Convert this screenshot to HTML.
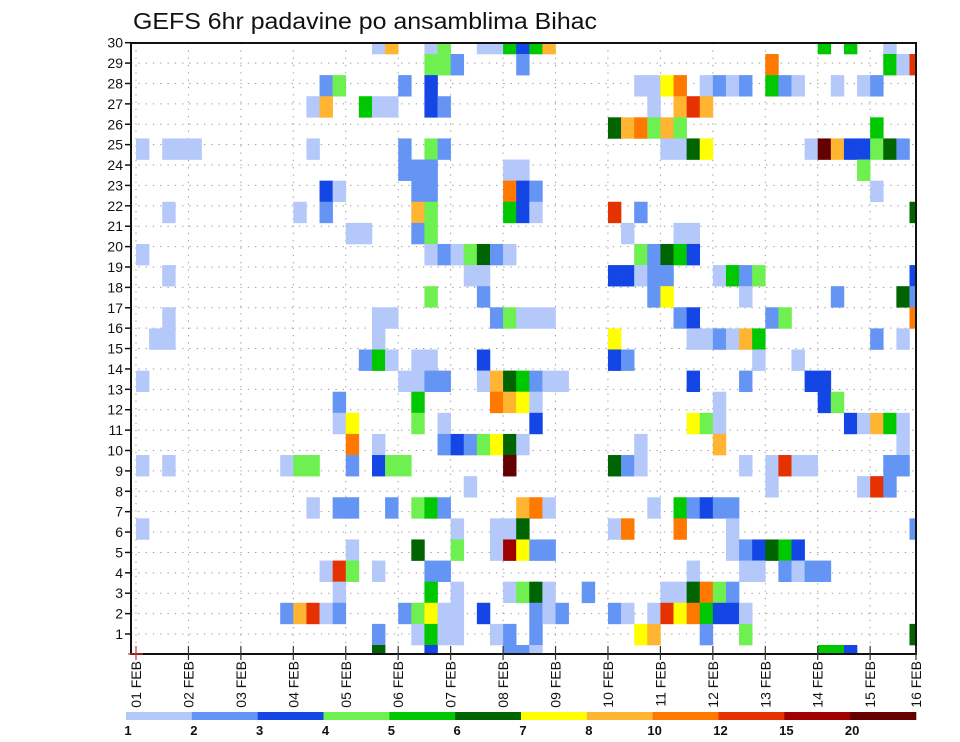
<!DOCTYPE html>
<html><head><meta charset="utf-8">
<style>
html,body{margin:0;padding:0;background:#fff;}
svg{display:block;font-family:"Liberation Sans",sans-serif;}
</style></head>
<body>
<svg id="chart" width="960" height="742" viewBox="0 0 960 742" xmlns="http://www.w3.org/2000/svg">
  <rect x="0" y="0" width="960" height="742" fill="#fff"/>
  <text x="133" y="29" font-size="23" textLength="464" lengthAdjust="spacingAndGlyphs" fill="#111">GEFS 6hr padavine po ansamblima Bihac</text>
  <g id="grid"></g>
  <g id="cells"></g>
  <g id="axes"></g>
  <g id="legend"></g>
</svg>
<script>
// ---- data ----
const members = [30,29,28,27,26,25,24,23,22,21,20,19,18,17,16,14,13,12,11,10,9,8,7,6,5,4,3,2,1,0];
const dayLabels = ["01 FEB","02 FEB","03 FEB","04 FEB","05 FEB","06 FEB","07 FEB","08 FEB","09 FEB","10 FEB","11 FEB","12 FEB","13 FEB","14 FEB","15 FEB","16 FEB"];
const yTicks = [1,2,3,4,5,6,7,8,9,10,11,12,13,14,15,16,17,18,19,20,21,22,23,24,25,26,27,28,29,30];
const levelLabels = ["1","2","3","4","5","6","7","8","10","12","15","20"];
const levelColors = ["#b4c8fa","#6495f5","#1446e6","#6ef050","#00c800","#006400","#ffff00","#ffb432","#ff7800","#e63200","#a00000","#640000"];
// per member row: "step:class" pairs (step = 6h index 0..59, class 1..9,A,B,C)
const grid = [
"18:1 19:8 22:1 23:4 26:1 27:1 28:5 29:3 30:5 31:8 52:5 54:5 57:1",
"22:4 23:4 24:2 29:2 48:9 57:5 58:1 59:A",
"14:2 15:4 20:2 22:3 38:1 39:1 40:7 41:9 43:1 44:2 45:1 46:2 48:5 49:2 50:1 53:1 55:1 56:2",
"13:1 14:8 17:5 18:1 19:1 22:3 23:2 39:1 41:8 42:A 43:8",
"36:6 37:8 38:9 39:4 40:8 41:4 56:5",
"0:1 2:1 3:1 4:1 13:1 20:2 22:4 23:2 40:1 41:1 42:6 43:7 51:1 52:C 53:8 54:3 55:3 56:4 57:6 58:2",
"20:2 21:2 22:2 28:1 29:1 55:4",
"14:3 15:1 21:2 22:2 28:9 29:3 30:2 56:1",
"2:1 12:1 14:2 21:8 22:4 28:5 29:3 30:1 36:A 38:2 59:6",
"16:1 17:1 21:2 22:4 37:1 41:1 42:1",
"0:1 22:1 23:2 24:1 25:4 26:6 27:2 28:1 38:4 39:2 40:6 41:5 42:3",
"2:1 25:1 26:1 36:3 37:3 38:1 39:2 40:2 44:1 45:5 46:2 47:4 59:3",
"22:4 26:2 39:2 40:7 46:1 53:2 58:6 59:2",
"2:1 18:1 19:1 27:2 28:4 29:1 30:1 31:1 41:2 42:3 48:2 49:4 59:9",
"1:1 2:1 18:1 36:7 42:1 43:1 44:2 45:1 46:8 47:5 56:2 58:1",
"17:2 18:5 19:1 21:1 22:1 26:3 36:3 37:2 47:1 50:1",
"0:1 20:1 21:1 22:2 23:2 26:1 27:8 28:6 29:5 30:2 31:1 32:1 42:3 46:2 51:3 52:3",
"15:2 21:5 27:9 28:8 29:7 30:1 44:1 52:3 53:4",
"15:1 16:7 21:4 23:1 30:3 42:7 43:4 44:1 54:3 55:1 56:8 57:5 58:1",
"16:9 18:1 23:2 24:3 25:2 26:4 27:7 28:6 29:1 38:1 44:8 58:1",
"0:1 2:1 11:1 12:4 13:4 16:2 18:3 19:4 20:4 28:C 36:6 37:2 38:1 46:1 48:1 49:A 50:1 51:1 57:2 58:2",
"25:1 48:1 55:1 56:A 57:2",
"13:1 15:2 16:2 19:2 21:4 22:5 23:2 29:8 30:9 31:1 39:1 41:5 42:2 43:3 44:2 45:2",
"0:1 24:1 27:1 28:1 29:6 36:1 37:9 41:9 45:1 59:2",
"16:1 21:6 24:4 27:1 28:B 29:7 30:2 31:2 45:1 46:2 47:3 48:6 49:5 50:3",
"14:1 15:A 16:4 18:1 22:2 23:2 42:1 46:1 47:1 49:2 50:1 51:2 52:2",
"15:1 22:5 24:1 28:1 29:4 30:6 31:1 34:2 40:1 41:1 42:6 43:9 44:4 45:2",
"11:2 12:8 13:A 14:1 15:2 20:2 21:4 22:7 23:1 24:1 26:3 30:2 31:1 32:2 36:2 37:1 39:1 40:A 41:7 42:9 43:5 44:3 45:3 46:1",
"18:2 21:1 22:5 23:1 24:1 27:1 28:2 30:2 38:7 39:8 43:2 46:4 59:6",
"18:6 22:3 28:2 29:2 30:1 52:5 53:5 54:3"
];
// ---- geometry ----
const X0 = 136, COLW = 13.11, DAYW = 52.44;
const LEFT = 131, RIGHT = 916, TOP = 43, BOTTOM = 654;
const NS = "http://www.w3.org/2000/svg";
function xCol(c){ return X0 + c*COLW; }
function xDay(d){ return d===15 ? RIGHT : X0 + d*DAYW; }
function yTick(r){ return 654.4 - r*20.39; }
function slotTop(s){ return s===0 ? TOP : 54 + (s-1)*21.107; }
function slotBottom(s){ return s===members.length-1 ? BOTTOM : 54 + s*21.107; }
const codes = "123456789ABC";
function mk(tag, attrs, parent){
  const e = document.createElementNS(NS, tag);
  for (const k in attrs) e.setAttribute(k, attrs[k]);
  parent.appendChild(e); return e;
}
const gGrid = document.getElementById('grid');
const gCells = document.getElementById('cells');
const gAxes = document.getElementById('axes');
const gLeg = document.getElementById('legend');

yTicks.forEach(function(r){
  if (r >= 30) return;
  const l = mk('line',{x1:LEFT,x2:RIGHT,y1:yTick(r),y2:yTick(r),stroke:'#999','stroke-width':1,'stroke-dasharray':'1.3,6'},gGrid);
  
  
});
dayLabels.forEach(function(d,i){
  if (i === 15) return;
  const l = mk('line',{x1:xDay(i),x2:xDay(i),y1:TOP,y2:BOTTOM,stroke:'#999','stroke-width':1,'stroke-dasharray':'1.3,6'},gGrid);
  
  
});

grid.forEach(function(row, s){
  row.split(/\s+/).forEach(function(p){
    if (!p) return;
    const parts = p.split(':');
    const c = parseInt(parts[0],10);
    const k = codes.indexOf(parts[1]);
    if (k < 0) return;
    const x = xCol(c);
    const w = Math.min(COLW, RIGHT - x);
    if (w <= 0) return;
    const y1 = slotTop(s), y2 = slotBottom(s);
    const r = mk('rect',{x:x.toFixed(2),y:y1.toFixed(2),width:(w+0.3).toFixed(2),height:(y2-y1+0.3).toFixed(2),fill:levelColors[k]},gCells);
    
    
  });
});

const frame = mk('rect',{x:LEFT,y:TOP,width:RIGHT-LEFT,height:BOTTOM-TOP,fill:'none',stroke:'#111','stroke-width':2},gAxes);



yTicks.forEach(function(r){
  const y = yTick(r);
  const t = mk('line',{x1:LEFT-6,x2:LEFT,y1:y,y2:y,stroke:'#111','stroke-width':1.5},gAxes);
  
  
  const lb = mk('text',{x:LEFT-8,y:y+5,'font-size':14,'text-anchor':'end',fill:'#111'},gAxes);
  lb.textContent = r;
  
  
});

dayLabels.forEach(function(d,i){
  const x = xDay(i);
  const t = mk('line',{x1:x,x2:x,y1:BOTTOM-8,y2:BOTTOM+6,stroke:i===0?'#c33':'#333','stroke-width':1.2},gAxes);
  
  
  const lb = mk('text',{x:0,y:0,'font-size':14,'text-anchor':'end',fill:'#111',transform:'translate('+(x+5)+','+(BOTTOM+7)+') rotate(-90)'},gAxes);
  lb.textContent = d;
  
  
});
const red = mk('line',{x1:LEFT-3,x2:X0+7,y1:BOTTOM,y2:BOTTOM,stroke:'#c33','stroke-width':1.2},gAxes);



const CB0 = 126, CBW = (916-126)/12;
levelColors.forEach(function(col,i){
  const r = mk('rect',{x:(CB0+i*CBW).toFixed(2),y:712,width:(CBW+0.3).toFixed(2),height:8,fill:col},gLeg);
  
  
});
levelLabels.forEach(function(lab,i){
  const t = mk('text',{x:(CB0+i*CBW+2).toFixed(2),y:735,'font-size':13,'font-weight':'bold','text-anchor':'middle',fill:'#111'},gLeg);
  t.textContent = lab;
  
  
});
</script>
</body></html>
